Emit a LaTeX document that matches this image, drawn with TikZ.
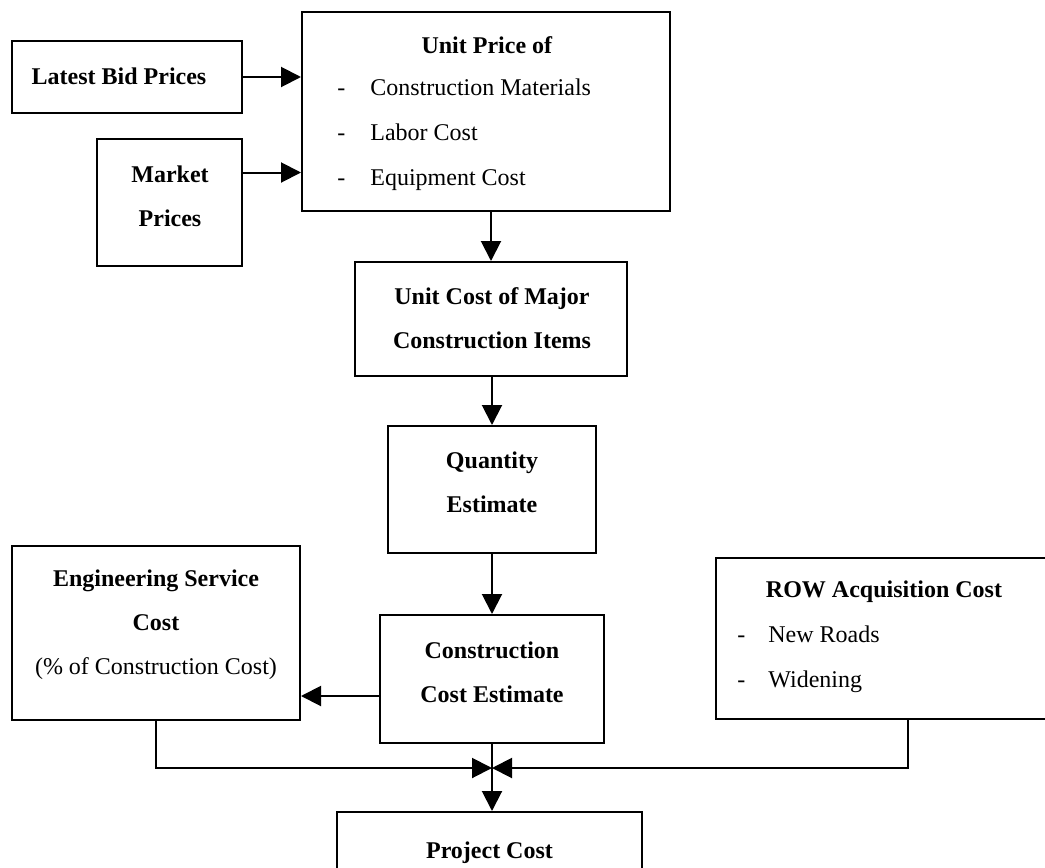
\documentclass[tikz,border=0pt]{standalone}
\usepackage{fontspec}
\setmainfont{Liberation Serif}
\usetikzlibrary{arrows.meta}

\begin{document}
\begin{tikzpicture}[x=0.5pt,y=-0.5pt,
	box/.style={rectangle,draw,line width=1pt,inner sep=0pt},
	txt/.style={inner sep=0pt,align=center,font=\fontsize{12}{22}\selectfont},
	lst/.style={inner sep=0pt,align=left,font=\fontsize{12}{22.5}\selectfont},
	arr/.style={line width=1pt,-{Triangle[length=10pt,width=10pt]}}]

		\clip (0,0) rectangle (1045,868);

		% boxes
		\node[box,minimum width=115pt,minimum height=36pt] (bid) at (127,77) {};
		\node[box,minimum width=72.5pt,minimum height=63.5pt] (market) at (169.5,202.5) {};
		\node[box,minimum width=184pt,minimum height=99.5pt] (up) at (486,111.5) {};
		\node[box,minimum width=136pt,minimum height=57pt] (uc) at (491,319) {};
		\node[box,minimum width=104pt,minimum height=63.5pt] (qty) at (492,489.5) {};
		\node[box,minimum width=112pt,minimum height=64pt] (cce) at (492,679) {};
		\node[box,minimum width=144pt,minimum height=87pt] (eng) at (156,633) {};
		\node[box,minimum width=192pt,minimum height=80.5pt] (row) at (908,638.5) {};
		\node[box,minimum width=152.5pt,minimum height=44pt] (proj) at (489.5,856) {};
		\coordinate (j) at (492,768);

		% texts
		\node[txt] (bidtext) at (119,76) {\textbf{Latest Bid Prices}};
		\node[txt] (markettext) at (170,196.5) {\textbf{Market}\\\textbf{Prices}};
		\node[txt] (uptitle) at (487,45) {\textbf{Unit Price of}};
		\node[lst,anchor=west] (uplist) at (337,135)
			{\makebox[16.5pt][l]{-}Construction Materials\\
			 \makebox[16.5pt][l]{-}Labor Cost\\
			 \makebox[16.5pt][l]{-}Equipment Cost};
		\node[txt] (uctext) at (492,318.5) {\textbf{Unit Cost of Major}\\\textbf{Construction Items}};
		\node[txt] (qtytext) at (492,482.5) {\textbf{Quantity}\\\textbf{Estimate}};
		\node[txt] (ccetext) at (492,672.5) {\textbf{Construction}\\\textbf{Cost Estimate}};
		\node[txt] (engtext) at (156,625) {\textbf{Engineering Service}\\\textbf{Cost}\\(\% of Construction Cost)};
		\node[txt] (rowtitle) at (884,592) {\textbf{ROW Acquisition Cost}};
		\node[lst,anchor=west] (rowlist) at (737,659.5)
			{\makebox[15.5pt][l]{-}New Roads\\
			 \makebox[15.5pt][l]{-}Widening};
		\node[txt] (projtext) at (489.5,853) {\textbf{Project Cost}};

		% connectors
		\path (bid.east) edge[arr] (bid.east -| up.west);
		\path ([yshift=15pt]market.east) edge[arr] ([yshift=15pt]market.east -| up.west);
		\path (uc.north |- up.south) edge[arr] (uc.north);
		\path (uc.south -| qty.north) edge[arr] (qty.north);
		\path (qty.south) edge[arr] (cce.north);
		\path ([yshift=-8.5pt]cce.west) edge[arr] ([yshift=-8.5pt]cce.west -| eng.east);
		\path (cce.south) edge[arr] (cce.south |- proj.north);
		\draw[arr] (eng.south) -- (eng.south |- j) -- (j);
		\draw[arr] (row.south) -- (row.south |- j) -- (j);

	\end{tikzpicture}
\end{document}
